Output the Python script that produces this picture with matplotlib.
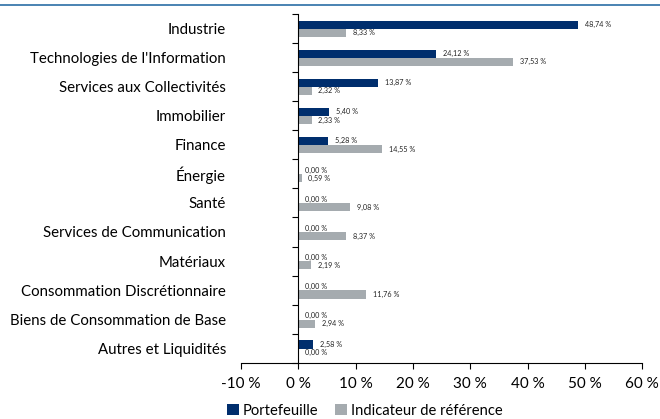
import matplotlib.pyplot as plt
from matplotlib.lines import Line2D
import numpy as np

plt.rcParams['font.family'] = ['Lato', 'DejaVu Sans']

categories = ['Industrie', "Technologies de l'Information", 'Services aux Collectivités',
              'Immobilier', 'Finance', 'Énergie', 'Santé', 'Services de Communication',
              'Matériaux', 'Consommation Discrétionnaire', 'Biens de Consommation de Base',
              'Autres et Liquidités']
portefeuille = [48.74, 24.12, 13.87, 5.40, 5.28, 0.00, 0.00, 0.00, 0.00, 0.00, 0.00, 2.58]
indicateur = [8.33, 37.53, 2.32, 2.33, 14.55, 0.59, 9.08, 8.37, 2.19, 11.76, 2.94, 0.00]
xticks = [-10, 0, 10, 20, 30, 40, 50, 60]

navy = '#002e6d'
grey = '#a5abaf'

fig = plt.figure(figsize=(6.6, 4.19), dpi=100)
ax = fig.add_axes([0.365, 0.134, 0.608, 0.833])

y = np.arange(len(categories))
h = 0.28
ax.barh(y - 0.13, portefeuille, height=h, color=navy, label='Portefeuille')
ax.barh(y + 0.15, indicateur, height=h, color=grey, label='Indicateur de référence')

def fmt(v):
    return f"{v:.2f}".replace('.', ',') + ' %'

for i in range(len(categories)):
    ax.text(portefeuille[i] + 1.2, y[i] - 0.13, fmt(portefeuille[i]), fontsize=5.2,
            va='center', ha='left', color='#222222')
    ax.text(indicateur[i] + 1.2, y[i] + 0.15, fmt(indicateur[i]), fontsize=5.2,
            va='center', ha='left', color='#222222')

ax.set_xlim(-10, 60)
ax.set_ylim(len(categories) - 0.5, -0.5)
ax.set_xticks(xticks)
ax.set_xticklabels([f"{t} %" for t in xticks], fontsize=11)
ax.tick_params(axis='x', length=4, width=0.8, pad=6)

ax.spines['left'].set_position(('data', 0))
ax.spines['top'].set_visible(False)
ax.spines['right'].set_visible(False)
ax.set_yticks(np.arange(len(categories) + 1) - 0.5)
ax.set_yticklabels([])
ax.set_yticks(y, minor=True)
ax.set_yticklabels(categories, minor=True, fontsize=10.8)
ax.tick_params(axis='y', which='major', length=4, width=0.8)
ax.tick_params(axis='y', which='minor', length=0, pad=52)

fig.add_artist(Line2D([0, 1], [0.988, 0.988], color='#2a6ea6', lw=1.2))

ax.legend(loc='upper left', bbox_to_anchor=(-0.05, -0.1), ncol=2, frameon=False,
          fontsize=10.6, handlelength=0.8, handleheight=0.8, handletextpad=0.3,
          columnspacing=1.1, borderaxespad=0)

fig.savefig('out.png', dpi=100)
